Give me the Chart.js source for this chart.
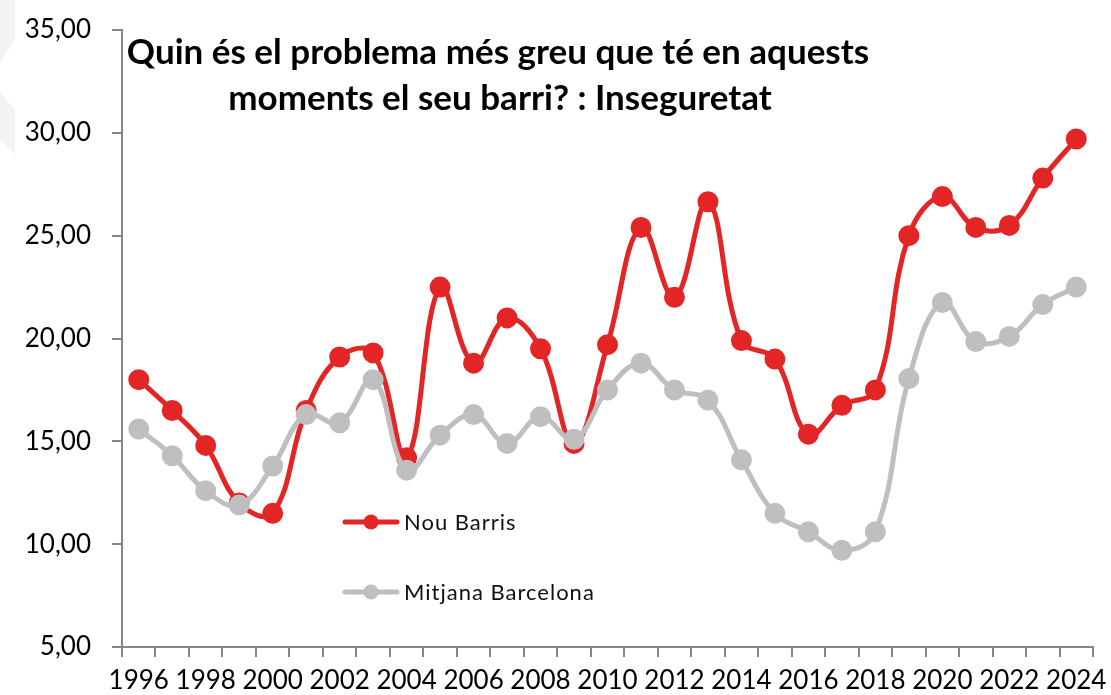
<!DOCTYPE html>
<html lang="ca">
<head>
  <meta charset="UTF-8">
  <title>Inseguretat</title>
  <script src="https://cdn.jsdelivr.net/npm/chart.js"></script>
  <style>
    html, body { margin: 0; padding: 0; background: #fff; }
    #viz { display: block; }
  </style>
</head>
<body>
  <canvas id="viz" width="1111" height="695"></canvas>
  <script>
    const years = ['1996', '1997', '1998', '1999', '2000', '2001', '2002', '2003', '2004', '2005',
      '2006', '2007', '2008', '2009', '2010', '2011', '2012', '2013', '2014', '2015',
      '2016', '2017', '2018', '2019', '2020', '2021', '2022', '2023', '2024']

    const nouBarris = [18.0, 16.5, 14.8, 12.0, 11.5, 16.5, 19.1, 19.3, 14.2, 22.5,
      18.8, 21.0, 19.5, 14.9, 19.7, 25.4, 22.0, 26.65, 19.9, 19.0,
      15.35, 16.75, 17.5, 25.0, 26.9, 25.4, 25.5, 27.8, 29.7]

    const mitjanaBcn = [15.6, 14.3, 12.6, 11.9, 13.8, 16.3, 15.9, 18.0, 13.6, 15.3,
      16.3, 14.9, 16.2, 15.1, 17.5, 18.8, 17.5, 17.0, 14.1, 11.5,
      10.6, 9.7, 10.6, 18.05, 21.75, 19.85, 20.1, 21.65, 22.5]

    const titleLines = ['Quin és el problema més greu que té en aquests', 'moments el seu barri? : Inseguretat']

    const red = '#e42526'
    const grey = '#bfbfbf'
    const axisGrey = '#868686'
    const tickFont = { family: 'Lato', size: 26 }

    // title and legend sit inside the plot, so they are painted by hand
    const overlay = {
      id: 'overlay',
      beforeDraw(chart) {
        const ctx = chart.ctx
        ctx.save()
        ctx.fillStyle = '#f3f3f3'
        ctx.beginPath()
        ctx.moveTo(0, 0); ctx.lineTo(15, 0); ctx.lineTo(15, 40); ctx.lineTo(0, 62)
        ctx.closePath(); ctx.fill()
        ctx.beginPath()
        ctx.moveTo(0, 92); ctx.lineTo(15, 110); ctx.lineTo(15, 155); ctx.lineTo(0, 140)
        ctx.closePath(); ctx.fill()
        ctx.restore()
      },
      afterDraw(chart) {
        const ctx = chart.ctx
        ctx.save()
        ctx.fillStyle = '#000'
        ctx.textAlign = 'center'
        ctx.textBaseline = 'alphabetic'
        ctx.font = 'bold 35px Lato'
        ctx.fillText(titleLines[0], 498, 64)
        ctx.fillText(titleLines[1], 500, 110)

        const rows = [
          { label: chart.data.datasets[0].label, color: red, y: 522 },
          { label: chart.data.datasets[1].label, color: grey, y: 592 }
        ]
        ctx.textAlign = 'left'
        ctx.textBaseline = 'middle'
        ctx.font = '22px Lato'
        ctx.letterSpacing = '1px'
        rows.forEach(r => {
          ctx.strokeStyle = r.color
          ctx.lineWidth = 5
          ctx.lineCap = 'round'
          ctx.beginPath()
          ctx.moveTo(345, r.y)
          ctx.lineTo(397, r.y)
          ctx.stroke()
          ctx.fillStyle = r.color
          ctx.beginPath()
          ctx.arc(371, r.y, 7.5, 0, Math.PI * 2)
          ctx.fill()
          ctx.fillStyle = '#111'
          ctx.fillText(r.label, 404, r.y + 1)
        })
        ctx.restore()
      }
    }

    const chart = new Chart(document.getElementById('viz'), {
      type: 'line',
      data: {
        labels: years,
        datasets: [{
          label: 'Nou Barris',
          data: nouBarris,
          borderColor: red,
          backgroundColor: red,
          borderWidth: 5,
          pointRadius: 8,
          pointHoverRadius: 8,
          tension: 0.4,
          order: 2
        }, {
          label: 'Mitjana Barcelona',
          data: mitjanaBcn,
          borderColor: grey,
          backgroundColor: grey,
          borderWidth: 5,
          pointRadius: 8,
          pointHoverRadius: 8,
          tension: 0.4,
          order: 1
        }]
      },
      options: {
        responsive: false,
        animation: false,
        layout: { padding: { left: 0, top: 30, right: 18, bottom: 0 } },
        plugins: {
          legend: { display: false },
          title: { display: false },
          tooltip: { enabled: false }
        },
        scales: {
          x: {
            offset: true,
            grid: { offset: true, drawOnChartArea: false, drawTicks: true, tickLength: 10, color: axisGrey, lineWidth: 2 },
            border: { color: axisGrey, width: 2 },
            ticks: {
              autoSkip: false,
              maxRotation: 0,
              padding: 8,
              color: '#000',
              font: tickFont,
              callback: function (v, i) { return i % 2 === 0 ? this.getLabelForValue(v) : '' }
            },
            afterFit: s => { s.height = 48; s.paddingLeft = 0; s.paddingRight = 0 }
          },
          y: {
            min: 5,
            max: 35,
            grid: { drawOnChartArea: false, drawTicks: true, tickLength: 10, color: axisGrey, lineWidth: 2 },
            border: { color: axisGrey, width: 2 },
            ticks: {
              stepSize: 5,
              padding: 21,
              color: '#000',
              font: tickFont,
              callback: v => v.toFixed(2).replace('.', ',')
            },
            afterFit: s => { s.width = 122; s.paddingTop = 0; s.paddingBottom = 0 }
          }
        }
      },
      plugins: [overlay]
    })
  </script>
</body>
</html>
